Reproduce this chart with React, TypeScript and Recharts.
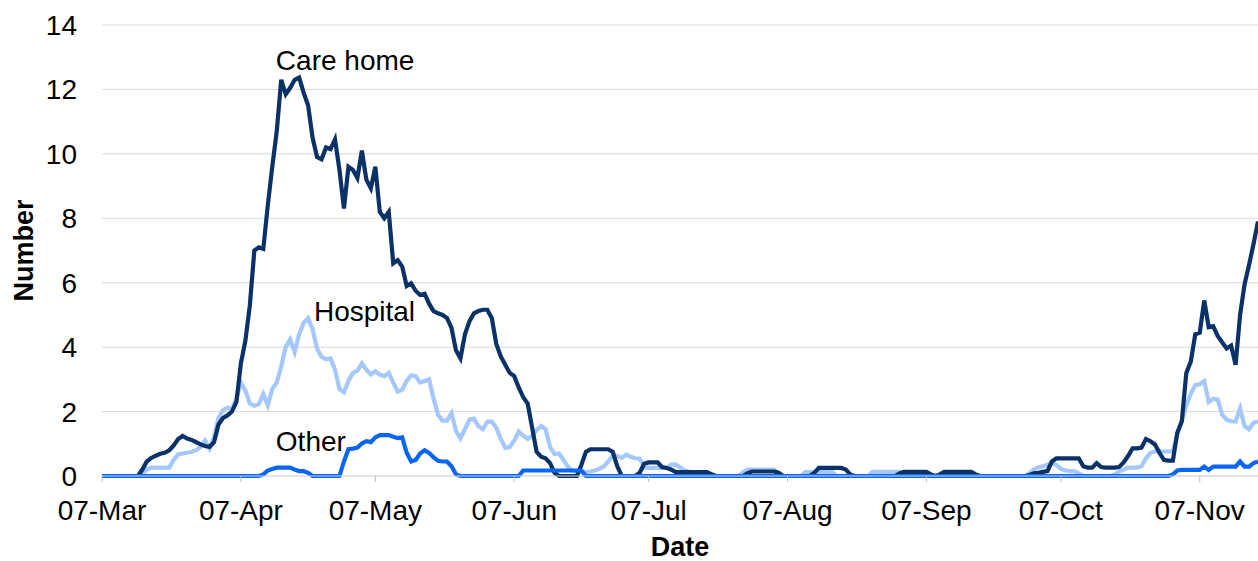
import React from 'react';
import { LineChart, Line, XAxis, YAxis, CartesianGrid, ReferenceDot } from 'recharts';

// Daily values, starting 07-Mar (index 0) to 20-Nov (index 258)
const careHome = [
  0, 0, 0, 0, 0, 0, 0, 0, 0, 0.2,
  0.45, 0.56, 0.63, 0.69, 0.72, 0.8, 0.95, 1.15, 1.24, 1.16,
  1.12, 1.05, 0.98, 0.93, 0.9, 1.05, 1.6, 1.8, 1.88, 2.0,
  2.3, 3.5, 4.2, 5.3, 7.0, 7.1, 7.05, 8.4, 9.6, 10.7,
  12.3, 11.85, 12.05, 12.3, 12.37, 11.9, 11.5, 10.5, 9.9, 9.83,
  10.2, 10.15, 10.45, 9.5, 8.3, 9.6, 9.5, 9.25, 10.1, 9.2,
  8.93, 9.6, 8.2, 8.0, 8.2, 6.6, 6.7, 6.5, 5.9, 5.98,
  5.75, 5.62, 5.66, 5.35, 5.12, 5.05, 5.0, 4.9, 4.6, 3.9,
  3.65, 4.4, 4.8, 5.05, 5.12, 5.16, 5.16, 4.9, 4.1, 3.71,
  3.45, 3.2, 3.1, 2.75, 2.45, 2.25, 1.5, 0.75, 0.6, 0.55,
  0.4, 0.1, 0, 0, 0, 0, 0, 0.35, 0.75, 0.83,
  0.83, 0.83, 0.83, 0.83, 0.75, 0.3, 0, 0, 0, 0,
  0.1, 0.38, 0.42, 0.42, 0.42, 0.28, 0.25, 0.2, 0.13, 0.12,
  0.12, 0.12, 0.12, 0.12, 0.12, 0.12, 0.06, 0, 0, 0,
  0, 0, 0, 0, 0.08, 0.14, 0.14, 0.14, 0.14, 0.14,
  0.14, 0.1, 0, 0, 0, 0, 0, 0, 0, 0.1,
  0.25, 0.25, 0.25, 0.25, 0.25, 0.25, 0.2, 0.05, 0, 0,
  0, 0, 0, 0, 0, 0, 0, 0, 0.08, 0.13,
  0.13, 0.13, 0.13, 0.13, 0.13, 0.05, 0, 0.05, 0.13, 0.13,
  0.13, 0.13, 0.13, 0.13, 0.13, 0.05, 0, 0, 0, 0,
  0, 0, 0, 0, 0, 0, 0, 0.03, 0.08, 0.1,
  0.13, 0.15, 0.45, 0.55, 0.55, 0.55, 0.55, 0.55, 0.55, 0.3,
  0.26, 0.26, 0.4, 0.28, 0.26, 0.26, 0.26, 0.28, 0.42, 0.62,
  0.86, 0.86, 0.88, 1.15, 1.08, 0.98, 0.72, 0.5, 0.48, 0.48,
  1.35, 1.7, 3.2, 3.55, 4.4, 4.45, 5.45, 4.62, 4.65, 4.35,
  4.15, 3.96, 4.05, 3.45, 5.0, 5.95, 6.55, 7.2, 7.9,
];

const hospital = [
  0, 0, 0, 0, 0, 0, 0, 0, 0, 0.08,
  0.2, 0.26, 0.26, 0.26, 0.26, 0.26, 0.5, 0.67, 0.7, 0.72,
  0.75, 0.8, 0.9, 1.1, 0.85, 1.2, 1.8, 2.05, 2.12, 2.08,
  2.4, 2.9, 2.65, 2.25, 2.18, 2.23, 2.55, 2.2, 2.7, 2.9,
  3.4, 4.0, 4.24, 3.85, 4.4, 4.75, 4.9, 4.55, 3.95, 3.7,
  3.63, 3.65, 3.3, 2.7, 2.6, 2.95, 3.2, 3.27, 3.5, 3.3,
  3.15, 3.25, 3.15, 3.1, 3.2, 2.9, 2.62, 2.68, 2.95, 3.12,
  3.1, 2.9, 2.95, 3.0, 2.4, 1.9, 1.72, 1.72, 1.95, 1.4,
  1.17, 1.45, 1.75, 1.78, 1.55, 1.45, 1.69, 1.69, 1.5, 1.15,
  0.88, 0.9, 1.1, 1.38, 1.25, 1.15, 1.25, 1.42, 1.55, 1.45,
  0.9, 0.68, 0.7, 0.5, 0.28, 0.17, 0.13, 0.12, 0.12, 0.14,
  0.17, 0.22, 0.3, 0.45, 0.65, 0.62, 0.56, 0.66, 0.6, 0.55,
  0.54, 0.27, 0.25, 0.25, 0.25, 0.25, 0.25, 0.35, 0.36, 0.27,
  0.18, 0.13, 0.12, 0.11, 0.11, 0.1, 0.03, 0, 0, 0,
  0, 0, 0, 0.1, 0.2, 0.2, 0.2, 0.2, 0.2, 0.2,
  0.2, 0.05, 0, 0, 0, 0, 0, 0.12, 0.12, 0.12,
  0.12, 0.12, 0.12, 0.12, 0, 0, 0, 0, 0, 0,
  0, 0, 0.13, 0.13, 0.13, 0.13, 0.13, 0.13, 0.13, 0,
  0, 0, 0, 0, 0, 0, 0, 0, 0, 0,
  0, 0, 0, 0, 0, 0, 0, 0, 0, 0,
  0, 0, 0, 0, 0, 0, 0, 0.08, 0.2, 0.27,
  0.3, 0.35, 0.4, 0.35, 0.22, 0.17, 0.15, 0.15, 0.08, 0,
  0, 0, 0, 0, 0, 0, 0.05, 0.14, 0.2, 0.26,
  0.26, 0.26, 0.3, 0.55, 0.72, 0.76, 0.76, 0.76, 0.76, 0.76,
  1.3, 1.7, 2.2, 2.55, 2.82, 2.85, 2.95, 2.3, 2.4, 2.37,
  1.9, 1.75, 1.7, 1.69, 2.1, 1.55, 1.45, 1.65, 1.7,
];

const other = [
  0, 0, 0, 0, 0, 0, 0, 0, 0, 0,
  0, 0, 0, 0, 0, 0, 0, 0, 0, 0,
  0, 0, 0, 0, 0, 0, 0, 0, 0, 0,
  0, 0, 0, 0, 0, 0, 0.05, 0.17, 0.22, 0.26,
  0.26, 0.26, 0.26, 0.2, 0.15, 0.15, 0.1, 0, 0, 0,
  0, 0, 0, 0, 0.45, 0.83, 0.85, 0.88, 1.01, 1.08,
  1.05, 1.2, 1.27, 1.27, 1.27, 1.22, 1.18, 1.2, 0.72, 0.45,
  0.5, 0.7, 0.8, 0.72, 0.58, 0.47, 0.45, 0.45, 0.3, 0.05,
  0, 0, 0, 0, 0, 0, 0, 0, 0, 0,
  0, 0, 0, 0, 0.17, 0.17, 0.17, 0.17, 0.17, 0.17,
  0.17, 0.17, 0.17, 0.17, 0.17, 0.17, 0.17, 0.17, 0, 0,
  0, 0, 0, 0, 0, 0, 0, 0, 0, 0,
  0, 0, 0, 0, 0, 0, 0, 0, 0, 0,
  0, 0, 0, 0, 0, 0, 0, 0, 0, 0,
  0, 0, 0, 0, 0, 0, 0, 0, 0, 0,
  0, 0, 0, 0, 0, 0, 0, 0, 0, 0,
  0, 0, 0, 0, 0, 0, 0, 0, 0, 0,
  0, 0, 0, 0, 0, 0, 0, 0, 0, 0,
  0, 0, 0, 0, 0, 0, 0, 0, 0, 0,
  0, 0, 0, 0, 0, 0, 0, 0, 0, 0,
  0, 0, 0, 0, 0, 0, 0, 0, 0, 0,
  0, 0, 0, 0, 0, 0, 0, 0, 0, 0,
  0, 0, 0, 0, 0, 0, 0, 0, 0, 0,
  0, 0, 0, 0, 0, 0, 0, 0, 0, 0.05,
  0.17, 0.19, 0.19, 0.19, 0.19, 0.19, 0.29, 0.19, 0.29, 0.29,
  0.29, 0.29, 0.29, 0.29, 0.45, 0.29, 0.29, 0.4, 0.45,
];

const tickDays = [0, 31, 61, 92, 122, 153, 184, 214, 245];
const tickLabels = ['07-Mar', '07-Apr', '07-May', '07-Jun', '07-Jul', '07-Aug', '07-Sep', '07-Oct', '07-Nov'];
const yTicks = [0, 2, 4, 6, 8, 10, 12, 14];

const annotationLabels = ['Care home', 'Hospital', 'Other'];
const annotationDays = [38.8, 47.3, 38.8];
const annotationValues = [12.6, 4.81, 0.78];

const FONT = '"Liberation Sans", Arial, Helvetica, sans-serif';
const C_CARE = '#0b3169';
const C_HOSP = '#a4c8fb';
const C_OTHER = '#0a66f2';

const data = careHome.map((v, i) => ({
  day: i,
  careHome: v,
  hospital: hospital[i],
  other: other[i],
}));

const tickFormatter = (v: number) => {
  const idx = tickDays.indexOf(v);
  return idx >= 0 ? tickLabels[idx] : '';
};

export default function App() {
  return (
    <div style={{ position: 'absolute', left: 0, top: 0, width: 1258, height: 561, background: '#fff' }}>
      <LineChart
        width={1258}
        height={561}
        data={data}
        margin={{ top: 25, right: 0, bottom: 0, left: 0 }}
      >
        <CartesianGrid horizontal={true} vertical={false} stroke="#d9d9d9" strokeWidth={1} />
        <XAxis
          dataKey="day"
          type="number"
          domain={[0, 258]}
          ticks={tickDays}
          interval={0}
          tickFormatter={tickFormatter}
          height={85}
          tickSize={6}
          tickMargin={18}
          axisLine={{ stroke: '#d9d9d9' }}
          tickLine={{ stroke: '#bfbfbf' }}
          tick={{ fill: '#000', fontSize: 28, fontFamily: FONT }}
          label={{
            content: (props: any) => {
              const vb = props.viewBox || {};
              return (
                <text
                  x={vb.x + vb.width / 2}
                  y={vb.y + vb.height - 5}
                  textAnchor="middle"
                  fontSize={27}
                  fontWeight="bold"
                  fontFamily={FONT}
                  fill="#000"
                >
                  Date
                </text>
              );
            },
          }}
        />
        <YAxis
          type="number"
          domain={[0, 14]}
          ticks={yTicks}
          interval={0}
          width={102}
          tickSize={0}
          tickMargin={25}
          axisLine={false}
          tickLine={false}
          tick={{ fill: '#000', fontSize: 28, fontFamily: FONT }}
          label={{
            content: (props: any) => {
              const vb = props.viewBox || {};
              const cx = 33;
              const cy = vb.y + vb.height / 2;
              return (
                <text
                  x={cx}
                  y={cy}
                  textAnchor="middle"
                  fontSize={27}
                  fontWeight="bold"
                  fontFamily={FONT}
                  fill="#000"
                  transform={`rotate(-90, ${cx}, ${cy})`}
                >
                  Number
                </text>
              );
            },
          }}
        />
        <Line type="linear" dataKey="hospital" stroke={C_HOSP} strokeWidth={4.2} dot={false} isAnimationActive={false} />
        <Line type="linear" dataKey="careHome" stroke={C_CARE} strokeWidth={4.2} dot={false} isAnimationActive={false} />
        <Line type="linear" dataKey="other" stroke={C_OTHER} strokeWidth={4.2} dot={false} isAnimationActive={false} />
        {annotationLabels.map((lbl, i) => (
          <ReferenceDot
            key={lbl}
            x={annotationDays[i]}
            y={annotationValues[i]}
            r={0}
            ifOverflow="visible"
            shape={(p: any) => (
              <text x={p.cx} y={p.cy} textAnchor="start" fontSize={28} fontFamily={FONT} fill="#000">
                {lbl}
              </text>
            )}
          />
        ))}
      </LineChart>
    </div>
  );
}
